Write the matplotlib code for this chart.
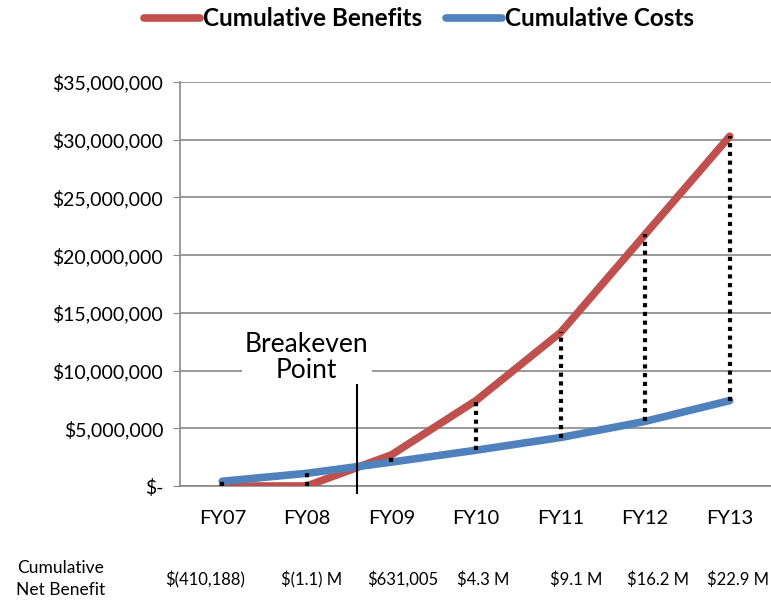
from matplotlib import pyplot as plt
import numpy as np

years = ["FY07", "FY08", "FY09", "FY10", "FY11", "FY12", "FY13"]
benefits = [0, 0, 2.7e6, 7.4e6, 13.3e6, 21.8e6, 30.3e6]
costs = [0.41e6, 1.1e6, 2.07e6, 3.1e6, 4.2e6, 5.6e6, 7.4e6]
net_labels = ["$(410,188)", "$(1.1) M", "$631,005", "$4.3 M", "$9.1 M", "$16.2 M", "$22.9 M"]
yticks = [0, 5e6, 10e6, 15e6, 20e6, 25e6, 30e6, 35e6]

plt.rcParams['font.family'] = ['Lato', 'DejaVu Sans']

fig = plt.figure(figsize=(7.71, 6), dpi=100)
ax = fig.add_axes([180 / 771, 1 - 486 / 600, 592 / 771, 404 / 600])

x = np.arange(len(years))
red = "#c0504d"
blue = "#4f81bd"

# dotted connectors between the two series
for i in x:
    lo, hi = min(benefits[i], costs[i]), max(benefits[i], costs[i])
    ax.plot([i, i], [lo, hi], color="black", lw=3, ls=(0, (1, 1.1)),
            zorder=4, solid_capstyle="butt", dash_capstyle="butt")

ax.plot(x, benefits, color=red, lw=5.5, label="Cumulative Benefits", zorder=3,
        solid_capstyle="round")
ax.plot(x, costs, color=blue, lw=5.5, label="Cumulative Costs", zorder=3,
        solid_capstyle="round")

ax.set_xlim(-0.5, len(years) - 0.5)
ax.set_ylim(0, 35e6)
ax.set_xticks(x)
ax.set_xticklabels(years, fontsize=14.5)
ax.set_yticks(yticks)
ax.set_yticklabels(["$-" if v == 0 else "${:,.0f}".format(v) for v in yticks], fontsize=14)
ax.tick_params(axis="x", length=0, pad=17)
ax.tick_params(axis="y", length=5, color="#888888", pad=7)
ax.grid(axis="y", color="#888888", lw=1.2)
ax.set_axisbelow(True)
for s in ["top", "right"]:
    ax.spines[s].set_visible(False)
for s in ["left", "bottom"]:
    ax.spines[s].set_color("#888888")
    ax.spines[s].set_linewidth(1.2)

# breakeven marker
ax.plot([1.59, 1.59], [8.75e6, -0.6e6], color="black", lw=1.5, clip_on=False, zorder=7)
ax.text(1.0, 11.1e6, "Breakeven\nPoint", ha="center", va="center", fontsize=19,
        linespacing=1.05, zorder=6,
        bbox=dict(facecolor="white", edgecolor="none", pad=2))

# net benefit row
fig.text(61 / 771, 1 - 579 / 600, "Cumulative\nNet Benefit", ha="center", va="center",
         fontsize=12.5, linespacing=1.5)
offsets = [-0.2, 0.05, 0.13, 0.08, 0.19, 0.15, 0.1]
for i, lab in enumerate(net_labels):
    ax.text(i + offsets[i], -8.1e6, lab, ha="center", va="center", fontsize=12,
            clip_on=False)

leg = fig.legend(loc="center", bbox_to_anchor=(419 / 771, 1 - 19 / 600), ncol=2,
                 frameon=False, prop={"weight": "bold", "size": 17.5},
                 handlelength=2.3, handletextpad=0.1, columnspacing=1.0)

plt.savefig("out.png", dpi=100)
